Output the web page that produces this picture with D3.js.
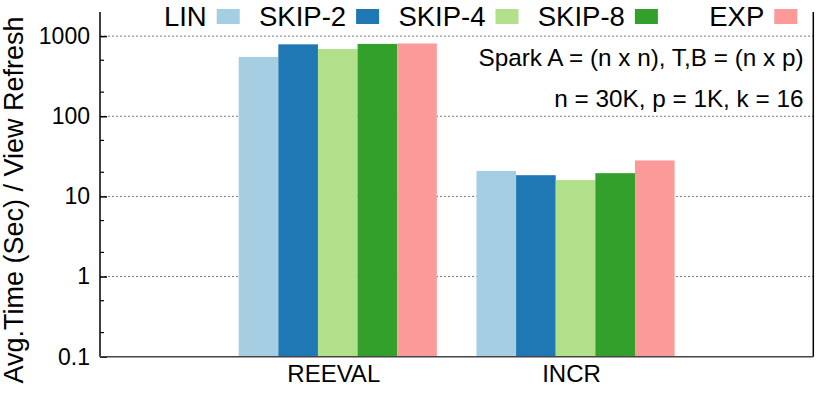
<!DOCTYPE html>
<html><head><meta charset="utf-8">
<script src="https://cdn.jsdelivr.net/npm/d3@7/dist/d3.min.js"></script>
<style>body{margin:0;background:#fff}svg{display:block;font-family:"Liberation Sans",Arial,Helvetica,sans-serif}</style>
</head><body>
<svg id="c" width="830" height="415"></svg>
<script>
const categories = ["REEVAL", "INCR"];
const seriesNames = ["LIN", "SKIP-2", "SKIP-4", "SKIP-8", "EXP"];
const seriesColors = ["#a6cee3", "#1f78b4", "#b2df8a", "#33a02c", "#fb9a99"];
const reevalValues = [550, 790, 690, 800, 810];
const incrValues = [20.8, 18.4, 16.0, 19.5, 28.1];
const majorTicks = [0.1, 1, 10, 100, 1000];
const majorTickLabels = ["0.1", "1", "10", "100", "1000"];
const minorTicks = [0.2, 0.5, 2, 5, 20, 50, 200, 500];
const annotations = ["Spark A = (n x n), T,B = (n x p)", "n = 30K, p = 1K, k = 16"];
const yLabel = "Avg.Time (Sec) / View Refresh";

const values = [reevalValues, incrValues];
const L = 100, R = 813.3, T = 12, B = 356.7;
const svg = d3.select("#c");

const x = d3.scaleLinear().domain([-1, 2]).range([L, R]);
const y = d3.scaleLog().domain([0.1, 2000]).range([B, T]);
const barW = (x(1) - x(0)) / 6;

// grid
svg.append("g").selectAll("line").data(majorTicks.filter(d => d > 0.1)).join("line")
  .attr("x1", L).attr("x2", R).attr("y1", d => y(d)).attr("y2", d => y(d))
  .attr("stroke", "#777").attr("stroke-width", 1).attr("stroke-dasharray", "2,2");

// bars
const data = [];
categories.forEach((c, i) => seriesNames.forEach((s, j) => data.push({i, j, v: values[i][j]})));
svg.append("g").selectAll("rect").data(data).join("rect")
  .attr("x", d => x(d.i) + (d.j - 2.5) * barW)
  .attr("width", barW)
  .attr("y", d => y(d.v))
  .attr("height", d => B - y(d.v))
  .attr("fill", d => seriesColors[d.j]);

// y axis
const yAxis = d3.axisLeft(y).tickValues(majorTicks).tickFormat((d, i) => majorTickLabels[i])
  .tickSizeInner(-7).tickSizeOuter(0).tickPadding(10);
const ga = svg.append("g").attr("transform", `translate(${L},0)`).call(yAxis);
ga.select(".domain").remove();
ga.selectAll("line").attr("stroke", "#000").attr("stroke-width", 1.5);
ga.selectAll("text").attr("font-size", 23).attr("fill", "#000").attr("font-family", "Liberation Sans, Arial, sans-serif");
svg.append("g").selectAll("line").data(minorTicks).join("line")
  .attr("x1", L).attr("x2", L + 4).attr("y1", d => y(d)).attr("y2", d => y(d))
  .attr("stroke", "#000").attr("stroke-width", 1.2);

// borders
svg.append("line").attr("x1", L).attr("x2", L).attr("y1", T).attr("y2", B).attr("stroke", "#000").attr("stroke-width", 1.5);
svg.append("line").attr("x1", R).attr("x2", R).attr("y1", T).attr("y2", B).attr("stroke", "#000").attr("stroke-width", 1.5);
svg.append("line").attr("x1", L).attr("x2", R).attr("y1", B).attr("y2", B).attr("stroke", "#444").attr("stroke-width", 1.5);

// x labels
svg.append("g").selectAll("text").data(categories).join("text")
  .attr("x", (d, i) => x(i) - 4).attr("y", 381.7)
  .attr("text-anchor", "middle").attr("font-size", 24).text(d => d);

// y label
svg.append("text").attr("transform", "translate(23,200) rotate(-90)")
  .attr("text-anchor", "middle").attr("font-size", 27).text(yLabel);

// legend
const lg = svg.append("g").selectAll("g").data(seriesNames).join("g")
  .attr("transform", (d, i) => `translate(${216.7 + i * 139.4},0)`);
lg.append("rect").attr("x", 0).attr("y", 9).attr("width", 23).attr("height", 15)
  .attr("fill", (d, i) => seriesColors[i]);
lg.append("text").attr("x", -10).attr("y", 26).attr("text-anchor", "end")
  .attr("font-size", 27.5).text(d => d);

// annotations
svg.append("g").selectAll("text").data(annotations).join("text")
  .attr("x", 803.5).attr("y", (d, i) => 66 + i * 40.5)
  .attr("text-anchor", "end").attr("font-size", 24.3).text(d => d);
</script>
</body></html>
